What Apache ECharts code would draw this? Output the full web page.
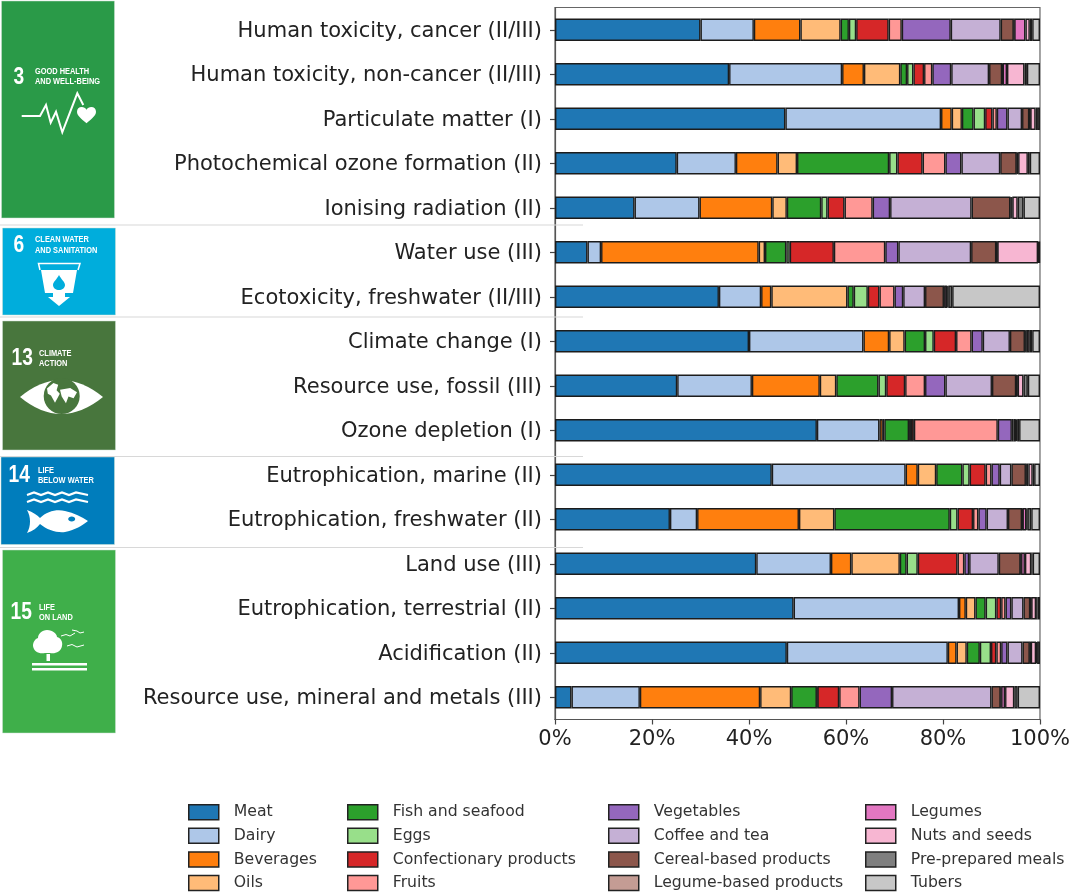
<!DOCTYPE html>
<html>
<head>
<meta charset="utf-8">
<title>Food groups by impact category</title>
<style>
html, body { margin: 0; padding: 0; background: #fff; }
#chart { width: 1073px; height: 893px; }
</style>
<script src="https://cdn.jsdelivr.net/npm/echarts@6/dist/echarts.min.js"></script>
</head>
<body>
<div id="chart"></div>
<script>
var categories = [
    'Human toxicity, cancer (II/III)', 'Human toxicity, non-cancer (II/III)', 'Particulate matter (I)',
    'Photochemical ozone formation (II)', 'Ionising radiation (II)', 'Water use (III)',
    'Ecotoxicity, freshwater (II/III)', 'Climate change (I)', 'Resource use, fossil (III)',
    'Ozone depletion (I)', 'Eutrophication, marine (II)', 'Eutrophication, freshwater (II)',
    'Land use (III)', 'Eutrophication, terrestrial (II)', 'Acidification (II)',
    'Resource use, mineral and metals (III)'
];
var tickLabels = ['0%', '20%', '40%', '60%', '80%', '100%'];

// share of each food group per impact category, in %
var meat = [30.0, 35.9, 47.5, 25.1, 16.4, 6.7, 33.8, 40.0, 25.2, 54.0, 44.7, 23.7, 41.5, 49.2, 47.8, 3.4];
var dairy = [11.0, 23.3, 32.1, 12.2, 13.4, 2.8, 8.7, 23.6, 15.4, 12.9, 27.6, 5.6, 15.4, 34.1, 33.2, 14.1];
var beverages = [9.6, 4.5, 2.2, 8.6, 15.0, 32.5, 2.1, 5.3, 14.0, 0.7, 2.5, 21.0, 4.2, 1.4, 1.8, 24.8];
var oils = [8.3, 7.5, 2.1, 4.0, 3.0, 1.3, 15.7, 3.2, 3.4, 0.3, 3.8, 7.3, 10.0, 2.0, 2.1, 6.4];
var fish = [1.7, 1.4, 2.4, 19.0, 7.1, 4.4, 1.3, 4.2, 8.7, 5.1, 5.4, 23.8, 1.4, 2.1, 2.7, 5.3];
var eggs = [1.5, 1.3, 2.4, 1.7, 1.3, 0.7, 2.9, 1.8, 1.6, 0.4, 1.5, 1.6, 2.3, 2.2, 2.3, 0.1];
var confectionary = [6.7, 2.2, 1.5, 5.2, 3.5, 9.1, 2.4, 4.6, 3.9, 0.6, 3.3, 3.2, 8.2, 1.0, 1.1, 4.5];
var fruits = [2.7, 1.7, 0.9, 4.7, 5.8, 10.6, 3.1, 3.2, 4.1, 17.3, 1.2, 1.1, 1.4, 0.9, 1.0, 4.2];
var vegetables = [10.1, 3.9, 2.2, 3.3, 3.6, 2.7, 1.8, 2.3, 4.2, 2.9, 1.7, 1.7, 1.0, 1.2, 1.3, 6.7];
var coffee = [10.3, 7.8, 3.0, 8.0, 16.8, 15.0, 4.5, 5.6, 9.6, 0.3, 2.4, 4.4, 6.1, 2.5, 3.1, 20.5];
var cereal = [2.7, 2.7, 1.5, 3.4, 8.0, 5.2, 3.9, 3.1, 5.0, 0.4, 3.0, 2.9, 4.5, 1.4, 1.5, 1.9];
var legumeBased = [0.1, 0.1, 0.1, 0.1, 0.2, 0.1, 0.1, 0.1, 0.1, 0.1, 0.1, 0.1, 0.1, 0.1, 0.1, 0.1];
var legumes = [2.3, 0.9, 0.1, 0.2, 0.2, 0.1, 0.6, 0.3, 0.2, 0.1, 0.4, 0.8, 0.8, 0.1, 0.1, 0.8];
var nuts = [0.9, 3.6, 1.1, 2.0, 1.1, 8.4, 0.2, 0.6, 1.2, 0.2, 0.9, 0.2, 1.3, 1.0, 1.1, 1.9];
var prepared = [0.5, 0.5, 0.3, 0.4, 1.2, 0.2, 0.8, 0.5, 0.9, 0.4, 0.3, 0.8, 0.3, 0.3, 0.2, 0.7];
var tubers = [1.6, 2.7, 0.6, 2.1, 3.4, 0.2, 18.1, 1.6, 2.5, 4.3, 1.2, 1.8, 1.5, 0.5, 0.6, 4.6];

var groupNames = ['Meat', 'Dairy', 'Beverages', 'Oils', 'Fish and seafood', 'Eggs', 'Confectionary products', 'Fruits',
    'Vegetables', 'Coffee and tea', 'Cereal-based products', 'Legume-based products', 'Legumes', 'Nuts and seeds',
    'Pre-prepared meals', 'Tubers'];
var groupValues = [meat, dairy, beverages, oils, fish, eggs, confectionary, fruits,
    vegetables, coffee, cereal, legumeBased, legumes, nuts, prepared, tubers];
var groupColors = ['#1f77b4', '#aec7e8', '#ff7f0e', '#ffbb78', '#2ca02c', '#98df8a', '#d62728', '#ff9896',
    '#9467bd', '#c5b0d5', '#8c564b', '#c49c94', '#e377c2', '#f7b6d2', '#7f7f7f', '#c7c7c7'];

var series = [];
for (var i = 0; i < groupNames.length; i++) {
    series.push({
        name: groupNames[i],
        type: 'bar',
        stack: 'total',
        barWidth: 22.5,
        data: groupValues[i],
        itemStyle: { color: groupColors[i], borderColor: '#1c1c1c', borderWidth: 1.4 }
    });
}

// one legend per column, matplotlib spaces them by text width
function legendColumn(names, left) {
    return {
        data: names,
        orient: 'vertical',
        left: left,
        top: 804,
        height: 110,
        padding: 0,
        itemWidth: 30,
        itemHeight: 15,
        itemGap: 7.1,
        selectedMode: false,
        icon: 'rect',
        itemStyle: { borderColor: '#222', borderWidth: 1.5 },
        textStyle: { fontFamily: 'DejaVu Sans', fontSize: 15.7, lineHeight: 16, color: '#333', padding: [0, 0, 0, 10] }
    };
}

// SDG tiles on the left
var sans = '"Liberation Sans", sans-serif';
var white = '#fff';
var shapeCount = 0;

function tile(x, y, w, h, color) {
    return { type: 'rect', shape: { x: x, y: y, width: w, height: h }, style: { fill: color, stroke: '#cfe3d4', lineWidth: 0.5 } };
}
function bigNum(txt, x, y) {
    return { type: 'text', x: x, y: y, scaleX: 0.8, style: { text: txt, fill: white, font: 'bold 24px ' + sans } };
}
function smallTxt(txt, x, y) {
    return { type: 'text', x: x, y: y, scaleX: 0.78, style: { text: txt, fill: white, font: 'bold 9.5px ' + sans } };
}
// the graphic component has no plain path type, so each icon outline is registered as a shape
function shapePath(d, x, y, sx, sy, fill) {
    shapeCount++;
    var name = 'sdgIcon' + shapeCount;
    echarts.graphic.registerShape(name, echarts.graphic.extendPath(d, {}));
    return { type: name, x: x, y: y, scaleX: sx, scaleY: sy, style: { fill: fill } };
}
function line(points, width) {
    return { type: 'polyline', shape: { points: points }, style: { stroke: white, lineWidth: width, fill: null } };
}
function separator(y) {
    return { type: 'line', shape: { x1: 0, y1: y, x2: 583, y2: y }, style: { stroke: '#d8d8d8', lineWidth: 1.2 }, z: 20 };
}

var graphics = [
    tile(1.5, 1, 113, 217, '#2a9a48'),
    tile(2.5, 228, 113, 87, '#00addc'),
    tile(2.5, 321, 113, 129, '#48763d'),
    tile(1, 457, 113.5, 87.5, '#007dbc'),
    tile(2.5, 550, 113, 183, '#3faf4a'),
    separator(225), separator(317), separator(456.5), separator(547.5),

    // 3 good health
    bigNum('3', 13.5, 65), smallTxt('GOOD HEALTH', 35, 66.5), smallTxt('AND WELL-BEING', 35, 76.5),
    line([[21.7, 116], [40, 116], [46, 105], [50.7, 122.7], [56, 111.7], [62.3, 132.3], [77.3, 93.3], [83.3, 105]], 2),
    shapePath('M10 17C4 12 0 9 0 5C0 2 2 0 5 0C7 0 9 1 10 3C11 1 13 0 15 0C18 0 20 2 20 5C20 9 16 12 10 17Z', 77, 107, 0.95, 0.95, white),

    // 6 clean water
    bigNum('6', 13.5, 233), smallTxt('CLEAN WATER', 35, 234), smallTxt('AND SANITATION', 35, 245),
    line([[40, 270], [38.5, 263.5], [80, 263.5], [78, 270]], 1.5),
    shapePath('M0 0L36 0L32 23L24 23L24 27L29 27L18 36L7 27L12 27L12 23L4 23Z', 41, 270, 1, 1, white),
    shapePath('M6 0C8 4 12 7 12 10C12 13 9 15 6 15C3 15 0 13 0 10C0 7 4 4 6 0Z', 53, 275, 1, 1, '#00addc'),

    // 13 climate action
    bigNum('13', 11.5, 346), smallTxt('CLIMATE', 39, 348), smallTxt('ACTION', 39, 358.5),
    shapePath('M0 17Q41 -17 83 17Q41 51 0 17Z', 20, 380, 1, 1, white),
    { type: 'circle', shape: { cx: 61.7, cy: 396, r: 18 }, style: { fill: '#48763d' } },
    shapePath('M0 6L8 0L14 2L12 8L16 12L10 22L5 14L1 12Z', 47, 383, 0.8, 0.9, white),
    shapePath('M0 2L12 0L20 5L16 12L10 10L7 18L2 10Z', 60, 388, 0.85, 0.85, white),

    // 14 life below water
    bigNum('14', 8.5, 463), smallTxt('LIFE', 38, 465), smallTxt('BELOW WATER', 38, 475),
    line([[27, 495], [34, 492.5], [41, 495], [48, 492.5], [55, 495], [62, 492.5], [69, 495], [76, 492.5], [88, 495]], 2.2),
    line([[27, 502], [34, 499.5], [41, 502], [48, 499.5], [55, 502], [62, 499.5], [69, 502], [76, 499.5], [88, 502]], 2.2),
    shapePath('M0 0C6 2 10 5 13 8C20 1 30 -1 38 1C47 3 55 7 61 11C55 16 47 20 38 22C30 23 20 20 13 14C10 18 6 21 0 23C4 16 4 7 0 0Z', 27, 510, 1, 1, white),
    { type: 'ellipse', shape: { cx: 71.7, cy: 519, rx: 3.5, ry: 2.5 }, style: { fill: '#007dbc' } },

    // 15 life on land
    bigNum('15', 10.5, 600), smallTxt('LIFE', 39, 602), smallTxt('ON LAND', 39, 612),
    shapePath('M14 0C20 0 24 4 24 7C28 8 30 12 29 16C28 22 22 24 17 23L12 23C6 24 1 22 0 16C0 12 2 9 5 8C5 4 9 0 14 0Z', 33, 630, 1, 1, white),
    { type: 'rect', shape: { x: 46.5, y: 654, width: 3.5, height: 7 }, style: { fill: white } },
    { type: 'rect', shape: { x: 32, y: 663, width: 55, height: 2.5 }, style: { fill: white } },
    { type: 'rect', shape: { x: 32, y: 668, width: 55, height: 2.5 }, style: { fill: white } },
    line([[61, 636], [66, 634.5], [70, 636], [75, 633]], 1),
    line([[72, 630], [77, 631], [80, 633], [84, 632]], 1),
    line([[67, 646], [72, 644.5], [77, 647], [84, 645]], 1)
];

var option = {
    animation: false,
    backgroundColor: '#fff',
    textStyle: { fontFamily: 'DejaVu Sans' },
    grid: { left: 555, top: 7.5, width: 486, height: 712, show: true, borderColor: '#666', borderWidth: 1.2, backgroundColor: 'transparent' },
    xAxis: {
        type: 'value',
        min: 0,
        max: 100,
        interval: 20,
        splitLine: { show: false },
        axisLine: { show: true, lineStyle: { color: '#555', width: 1.2 } },
        axisTick: { show: true, length: 5, lineStyle: { color: '#444', width: 1.2 } },
        axisLabel: {
            margin: 10,
            fontFamily: 'DejaVu Sans',
            fontSize: 21,
            color: '#222',
            formatter: function (v) { return tickLabels[v / 20]; }
        }
    },
    yAxis: {
        type: 'category',
        inverse: true,
        data: categories,
        axisLine: { show: true, lineStyle: { color: '#555', width: 1.2 } },
        axisTick: { show: true, alignWithLabel: true, length: 5, lineStyle: { color: '#444', width: 1.2 } },
        // top aligned with a short line box, this puts the text a bit under the tick like the reference
        axisLabel: { margin: 13, fontFamily: 'DejaVu Sans', fontSize: 21, color: '#222', interval: 0, verticalAlign: 'top', lineHeight: 3 }
    },
    legend: [
        legendColumn(groupNames.slice(0, 4), 188),
        legendColumn(groupNames.slice(4, 8), 347),
        legendColumn(groupNames.slice(8, 12), 608),
        legendColumn(groupNames.slice(12, 16), 865)
    ],
    graphic: { elements: graphics },
    series: series
};

var myChart = echarts.init(document.getElementById('chart'));
myChart.setOption(option);
</script>
</body>
</html>
